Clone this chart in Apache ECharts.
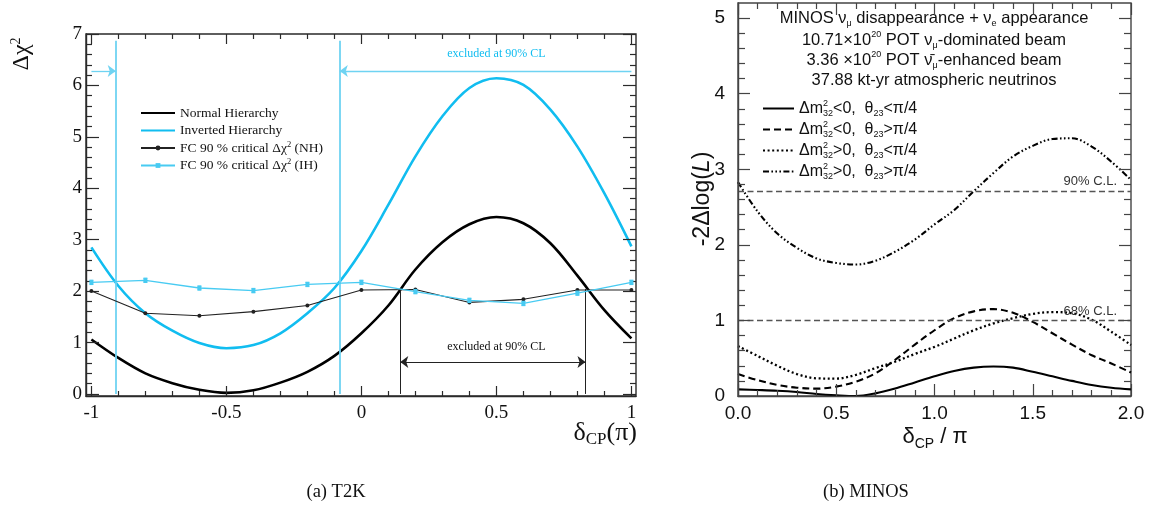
<!DOCTYPE html>
<html>
<head>
<meta charset="utf-8">
<script src="https://cdn.jsdelivr.net/npm/echarts@6/dist/echarts.min.js"></script>
<style>
  html, body { margin: 0; padding: 0; background: #ffffff; }
  #chart { width: 1156px; height: 508px; }
</style>
</head>
<body>
<div id="chart"></div>
<script>
// ---------- (a) T2K : Δχ² versus δCP ----------
const t2kDelta = [-1.0, -0.9, -0.8, -0.7, -0.6, -0.5, -0.4, -0.3, -0.2, -0.1, 0.0,
                  0.1, 0.2, 0.3, 0.4, 0.5, 0.6, 0.7, 0.8, 0.9, 1.0];
const t2kNormal   = [1.06, 0.70, 0.40, 0.21, 0.08, 0.02, 0.07, 0.22, 0.43, 0.74, 1.18,
                     1.72, 2.42, 2.95, 3.30, 3.44, 3.32, 2.93, 2.30, 1.63, 1.08];
const t2kInverted = [2.85, 2.10, 1.57, 1.23, 0.99, 0.89, 0.95, 1.18, 1.57, 2.06, 2.78,
                     3.68, 4.62, 5.40, 5.95, 6.14, 6.01, 5.53, 4.81, 3.90, 2.87];
const fcDelta     = [-1.0, -0.8, -0.6, -0.4, -0.2, 0.0, 0.2, 0.4, 0.6, 0.8, 1.0];
const fcNormal    = [2.00, 1.57, 1.52, 1.60, 1.72, 2.02, 2.03, 1.78, 1.84, 2.02, 2.02];
const fcInverted  = [2.17, 2.21, 2.06, 2.01, 2.13, 2.17, 1.99, 1.82, 1.76, 1.96, 2.17];
const fcInvertedErr = [0.04, 0.04, 0.04, 0.04, 0.04, 0.04, 0.04, 0.04, 0.04, 0.04, 0.04];
const ihBounds = [-0.91, -0.08];     // IH: excluded outside these δCP values
const nhBounds = [0.144, 0.83];      // NH: excluded between these δCP values
const ihArrowLevel = 6.28, ihTextLevel = 6.61, ihLineTop = 6.87;
const nhArrowLevel = 0.62, nhTextLevel = 0.92, nhLineTop = 2.04;
const t2kXTicks = [-1, -0.5, 0, 0.5, 1];
const t2kYTicks = [0, 1, 2, 3, 4, 5, 6, 7];

// ---------- (b) MINOS : -2Δlog(L) versus δCP/π ----------
const minosDelta = [0.0, 0.1, 0.2, 0.3, 0.4, 0.5, 0.6, 0.7, 0.8, 0.9, 1.0,
                    1.1, 1.2, 1.3, 1.4, 1.5, 1.6, 1.7, 1.8, 1.9, 2.0];
const ihLowOctant  = [0.088, 0.08, 0.07, 0.053, 0.027, 0.01, 0.0, 0.035, 0.10, 0.18, 0.26,
                      0.33, 0.375, 0.39, 0.375, 0.32, 0.26, 0.20, 0.146, 0.11, 0.088];
const ihHighOctant = [0.29, 0.21, 0.146, 0.11, 0.097, 0.124, 0.19, 0.30, 0.48, 0.68, 0.87,
                      1.03, 1.12, 1.15, 1.10, 0.98, 0.83, 0.68, 0.54, 0.43, 0.31];
const nhLowOctant  = [0.66, 0.53, 0.40, 0.29, 0.234, 0.23, 0.28, 0.37, 0.455, 0.556, 0.65,
                      0.76, 0.87, 0.96, 1.03, 1.086, 1.11, 1.095, 1.01, 0.85, 0.675];
const nhHighOctant = [2.83, 2.44, 2.15, 1.96, 1.82, 1.76, 1.74, 1.79, 1.91, 2.07, 2.27,
                      2.46, 2.71, 2.95, 3.17, 3.31, 3.40, 3.41, 3.30, 3.10, 2.86];
const clLevels = [2.71, 1.0];
const clLabels = ['90% C.L.', '68% C.L.'];
const minosXTicks = [0, 0.5, 1, 1.5, 2];
const minosYTicks = [0, 1, 2, 3, 4, 5];

const pairs = (xs, ys) => xs.map((x, i) => [x, ys[i]]);
function steps(from, to, step, skipEvery) {
  const out = [];
  const n = Math.round((to - from) / step);
  for (let i = 0; i <= n; i++) {
    const v = +(from + i * step).toFixed(4);
    if (skipEvery && Math.abs(v / skipEvery - Math.round(v / skipEvery)) < 1e-6) continue;
    out.push(v);
  }
  return out;
}

const SERIF = '"Liberation Serif", "DejaVu Serif", serif';
const SANS = '"Liberation Sans", Arial, sans-serif';
const CYAN = '#11bdf0';
const CYAN_LIGHT = '#48cbf2';
const CYAN_RULE = '#6fd3f2';

// one tick-only axis (major or minor marks, optional labels) placed on a grid edge
function tickAxis(grid, position, min, max, ticks, len, labels, color, font, fmt, margin) {
  return {
    type: 'value', gridIndex: grid, position: position, min: min, max: max,
    axisLine: { show: !!labels, onZero: false, lineStyle: { color: color, width: 1.4 } },
    splitLine: { show: false },
    axisTick: { show: true, inside: true, length: len, customValues: ticks,
                lineStyle: { color: color, width: 1.2 } },
    axisLabel: labels ? { show: true, customValues: labels, color: '#111',
                          fontFamily: font.family, fontSize: font.size,
                          margin: margin, formatter: fmt } : { show: false },
    silent: true, z: 5
  };
}

const T2K_X = [-1.02, 1.017], T2K_Y = [-0.04, 7];
const MIN_X = [0, 2], MIN_Y = [0, 5.2];
const dark = '#2a2a2a', grey = '#444';

const xAxes = [
  tickAxis(0, 'bottom', T2K_X[0], T2K_X[1], t2kXTicks, 10, t2kXTicks, dark, {family: SERIF, size: 19}, v => String(v), 8),
  tickAxis(0, 'bottom', T2K_X[0], T2K_X[1], steps(-1, 1, 0.1, 0.5), 5, null, dark),
  tickAxis(0, 'top', T2K_X[0], T2K_X[1], t2kXTicks, 10, null, dark),
  tickAxis(0, 'top', T2K_X[0], T2K_X[1], steps(-1, 1, 0.1, 0.5), 5, null, dark),
  tickAxis(1, 'bottom', MIN_X[0], MIN_X[1], minosXTicks, 12, minosXTicks, grey, {family: SANS, size: 19}, v => v.toFixed(1), 8),
  tickAxis(1, 'bottom', MIN_X[0], MIN_X[1], steps(0, 2, 0.1, 0.5), 6, null, grey),
  tickAxis(1, 'top', MIN_X[0], MIN_X[1], minosXTicks, 12, null, grey),
  tickAxis(1, 'top', MIN_X[0], MIN_X[1], steps(0, 2, 0.1, 0.5), 6, null, grey)
];
const yAxes = [
  tickAxis(0, 'left', T2K_Y[0], T2K_Y[1], t2kYTicks, 13, t2kYTicks, dark, {family: SERIF, size: 19}, v => String(v), 4),
  tickAxis(0, 'left', T2K_Y[0], T2K_Y[1], steps(0, 7, 0.2, 1), 6, null, dark),
  tickAxis(0, 'right', T2K_Y[0], T2K_Y[1], t2kYTicks, 13, null, dark),
  tickAxis(0, 'right', T2K_Y[0], T2K_Y[1], steps(0, 7, 0.2, 1), 6, null, dark),
  tickAxis(1, 'left', MIN_Y[0], MIN_Y[1], minosYTicks, 12, minosYTicks, grey, {family: SANS, size: 19}, v => String(v), 13),
  tickAxis(1, 'left', MIN_Y[0], MIN_Y[1], steps(0, 5, 0.2, 1), 7, null, grey),
  tickAxis(1, 'right', MIN_Y[0], MIN_Y[1], minosYTicks, 12, null, grey),
  tickAxis(1, 'right', MIN_Y[0], MIN_Y[1], steps(0, 5, 0.2, 1), 7, null, grey)
];

const noLabel = { show: false };

const series = [
  // ----- T2K -----
  {
    name: 'Normal Hierarchy', type: 'line', xAxisIndex: 0, yAxisIndex: 0,
    data: pairs(t2kDelta, t2kNormal), smooth: 0.35, symbol: 'none',
    lineStyle: { color: '#000', width: 2.6 }, itemStyle: { color: '#000' }, z: 4,
    markLine: {
      silent: true, symbol: ['none', 'none'], symbolSize: [9, 8], label: noLabel,
      lineStyle: { color: '#222', width: 1, type: 'solid' },
      data: [
        [{ coord: [nhBounds[0], 0] }, { coord: [nhBounds[0], nhLineTop] }],
        [{ coord: [nhBounds[1], 0] }, { coord: [nhBounds[1], nhLineTop] }],
        [{ coord: [nhBounds[0], nhArrowLevel], symbol: 'arrow' },
         { coord: [nhBounds[1], nhArrowLevel], symbol: 'arrow' }]
      ]
    },
    markPoint: {
      silent: true, symbol: 'rect', symbolSize: 1, itemStyle: { color: 'rgba(0,0,0,0)' },
      label: { show: true, position: 'inside', formatter: 'excluded at 90% CL',
               color: '#111', fontFamily: SERIF, fontSize: 12 },
      data: [{ coord: [0.5, nhTextLevel] }]
    }
  },
  {
    name: 'Inverted Hierarchy', type: 'line', xAxisIndex: 0, yAxisIndex: 0,
    data: pairs(t2kDelta, t2kInverted), smooth: 0.35, symbol: 'none',
    lineStyle: { color: CYAN, width: 2.6 }, itemStyle: { color: CYAN }, z: 3,
    markLine: {
      silent: true, symbol: ['none', 'none'], symbolSize: [9, 8], label: noLabel,
      lineStyle: { color: CYAN_RULE, width: 1.8, type: 'solid' },
      data: [
        [{ coord: [ihBounds[0], 0] }, { coord: [ihBounds[0], ihLineTop] }],
        [{ coord: [ihBounds[1], 0] }, { coord: [ihBounds[1], ihLineTop] }],
        [{ coord: [-1, ihArrowLevel], lineStyle: { width: 1.3 } },
         { coord: [ihBounds[0], ihArrowLevel], symbol: 'arrow' }],
        [{ coord: [1, ihArrowLevel], lineStyle: { width: 1.3 } },
         { coord: [ihBounds[1], ihArrowLevel], symbol: 'arrow' }]
      ]
    },
    markPoint: {
      silent: true, symbol: 'rect', symbolSize: 1, itemStyle: { color: 'rgba(0,0,0,0)' },
      label: { show: true, position: 'inside', formatter: 'excluded at 90% CL',
               color: CYAN, fontFamily: SERIF, fontSize: 12 },
      data: [{ coord: [0.5, ihTextLevel] }]
    }
  },
  {
    name: 'FC NH', type: 'line', xAxisIndex: 0, yAxisIndex: 0,
    data: pairs(fcDelta, fcNormal), symbol: 'circle', symbolSize: 4,
    lineStyle: { color: '#222', width: 1.1 }, itemStyle: { color: '#222' }, z: 5
  },
  {
    name: 'FC IH', type: 'line', xAxisIndex: 0, yAxisIndex: 0,
    data: pairs(fcDelta, fcInverted), symbol: 'rect', symbolSize: 4,
    lineStyle: { color: CYAN_LIGHT, width: 1.3 }, itemStyle: { color: CYAN_LIGHT }, z: 5
  },
  {
    type: 'custom', xAxisIndex: 0, yAxisIndex: 0, silent: true, z: 6,
    data: fcDelta.map((x, i) => [x, fcInverted[i], fcInvertedErr[i]]),
    renderItem: function (params, api) {
      const x = api.value(0), y = api.value(1), e = api.value(2);
      const lo = api.coord([x, y - e]), hi = api.coord([x, y + e]);
      const st = { stroke: CYAN_LIGHT, lineWidth: 1.3 };
      return { type: 'group', children: [
        { type: 'line', shape: { x1: lo[0], y1: lo[1], x2: hi[0], y2: hi[1] }, style: st },
        { type: 'line', shape: { x1: lo[0] - 2, y1: lo[1], x2: lo[0] + 2, y2: lo[1] }, style: st },
        { type: 'line', shape: { x1: hi[0] - 2, y1: hi[1], x2: hi[0] + 2, y2: hi[1] }, style: st }
      ] };
    }
  },
  // ----- MINOS -----
  {
    name: 'ihLow', type: 'line', xAxisIndex: 4, yAxisIndex: 4,
    data: pairs(minosDelta, ihLowOctant), smooth: 0.35, symbol: 'none',
    lineStyle: { color: '#000', width: 2.1, type: 'solid' }, itemStyle: { color: '#000' },
    markLine: {
      silent: true, symbol: ['none', 'none'],
      lineStyle: { color: '#555', width: 1.3, type: [6, 3.5] },
      label: { show: true, position: 'insideEndTop', distance: [14, 3], color: '#333',
               fontFamily: SANS, fontSize: 13, formatter: p => p.name },
      data: clLevels.map((v, i) => ({ yAxis: v, name: clLabels[i] }))
    }
  },
  {
    name: 'ihHigh', type: 'line', xAxisIndex: 4, yAxisIndex: 4,
    data: pairs(minosDelta, ihHighOctant), smooth: 0.35, symbol: 'none',
    lineStyle: { color: '#000', width: 2.1, type: [7, 4] }, itemStyle: { color: '#000' }
  },
  {
    name: 'nhLow', type: 'line', xAxisIndex: 4, yAxisIndex: 4,
    data: pairs(minosDelta, nhLowOctant), smooth: 0.35, symbol: 'none',
    lineStyle: { color: '#000', width: 2.3, type: [2, 2.6] }, itemStyle: { color: '#000' }
  },
  {
    name: 'nhHigh', type: 'line', xAxisIndex: 4, yAxisIndex: 4,
    data: pairs(minosDelta, nhHighOctant), smooth: 0.35, symbol: 'none',
    lineStyle: { color: '#000', width: 2.1, type: [6, 2.4, 1.6, 2.4, 1.6, 2.4, 1.6, 2.4] },
    itemStyle: { color: '#000' }
  }
];

const t2kLegendText = {
  'Normal Hierarchy': 'Normal Hierarchy',
  'Inverted Hierarchy': 'Inverted Hierarchy',
  'FC NH': 'FC 90 % critical Δχ{sup|2} (NH)',
  'FC IH': 'FC 90 % critical Δχ{sup|2} (IH)'
};
const minosLegendText = {
  ihLow:  'Δm{sp|2}{sb|32}<0,  θ{sb|23}<π/4',
  ihHigh: 'Δm{sp|2}{sb|32}<0,  θ{sb|23}>π/4',
  nhLow:  'Δm{sp|2}{sb|32}>0,  θ{sb|23}<π/4',
  nhHigh: 'Δm{sp|2}{sb|32}>0,  θ{sb|23}>π/4'
};
const hiddenMarker = { color: 'rgba(0,0,0,0)', borderWidth: 0, opacity: 0 };

const option = {
  animation: false,
  backgroundColor: '#ffffff',
  grid: [
    { left: 86, top: 34, width: 550, height: 362, show: true, borderColor: dark, borderWidth: 1.4, containLabel: false },
    { left: 738, top: 3, width: 393, height: 393, show: true, borderColor: grey, borderWidth: 1.4, containLabel: false }
  ],
  xAxis: xAxes,
  yAxis: yAxes,
  legend: [
    {
      data: [
        { name: 'Normal Hierarchy', itemStyle: hiddenMarker },
        { name: 'Inverted Hierarchy', itemStyle: hiddenMarker },
        { name: 'FC NH' },
        { name: 'FC IH' }
      ],
      orient: 'vertical', left: 135, top: 100, itemWidth: 34, itemHeight: 6, itemGap: 1.5,
      selectedMode: false,
      formatter: n => t2kLegendText[n],
      textStyle: { fontFamily: SERIF, fontSize: 13.5, color: '#111', lineHeight: 16,
                   rich: { sup: { fontFamily: SERIF, fontSize: 8.5, verticalAlign: 'top', lineHeight: 16, color: '#111' } } }
    },
    {
      data: ['ihLow', 'ihHigh', 'nhLow', 'nhHigh'].map(n => ({ name: n, itemStyle: hiddenMarker })),
      orient: 'vertical', left: 757, top: 94, itemWidth: 31, itemHeight: 12, itemGap: 2,
      selectedMode: false,
      formatter: n => minosLegendText[n],
      textStyle: { fontFamily: SANS, fontSize: 16, color: '#111', lineHeight: 19,
                   rich: {
                     sp: { fontFamily: SANS, fontSize: 9, verticalAlign: 'top', lineHeight: 19, width: 0.01, color: '#111' },
                     sb: { fontFamily: SANS, fontSize: 9, verticalAlign: 'bottom', lineHeight: 19, color: '#111' }
                   } }
    }
  ],
  series: series,
  graphic: [
    // T2K axis titles
    { type: 'text', x: 22, y: 54, rotation: Math.PI / 2,
      style: { text: 'Δχ{s|2}', font: '24px ' + SERIF, fill: '#111', align: 'center', verticalAlign: 'middle',
               rich: { s: { font: '14px ' + SERIF, verticalAlign: 'top', lineHeight: 26 } } } },
    { type: 'text', x: 637, y: 433,
      style: { text: 'δ{s|CP}(π)', font: '26px ' + SERIF, fill: '#111', align: 'right', verticalAlign: 'middle',
               rich: { s: { font: '17px ' + SERIF, verticalAlign: 'bottom', lineHeight: 30 } } } },
    // MINOS axis titles
    { type: 'text', x: 703, y: 199, rotation: Math.PI / 2,
      style: { text: '-2Δlog({i|L})', font: '23px ' + SANS, fill: '#111', align: 'center', verticalAlign: 'middle',
               rich: { i: { font: 'italic 23px ' + SANS } } } },
    { type: 'text', x: 935, y: 437,
      style: { text: 'δ{s|CP} / π', font: '22px ' + SANS, fill: '#111', align: 'center', verticalAlign: 'middle',
               rich: { s: { font: '14px ' + SANS, verticalAlign: 'bottom', lineHeight: 28 } } } },
    // MINOS data description
    { type: 'text', x: 934, y: 18,
      style: { text: 'MINOS ν{b|μ} disappearance + ν{b|e} appearance', font: '16.5px ' + SANS, fill: '#111',
               align: 'center', verticalAlign: 'middle',
               rich: { b: { font: '9px ' + SANS, verticalAlign: 'bottom', lineHeight: 20 } } } },
    { type: 'text', x: 934, y: 40,
      style: { text: '10.71×10{p|20} POT ν{b|μ}-dominated beam', font: '16.5px ' + SANS, fill: '#111',
               align: 'center', verticalAlign: 'middle',
               rich: { b: { font: '9px ' + SANS, verticalAlign: 'bottom', lineHeight: 20 },
                       p: { font: '9px ' + SANS, verticalAlign: 'top', lineHeight: 20 } } } },
    { type: 'text', x: 934, y: 60,
      style: { text: '3.36 ×10{p|20} POT ν\u0304{b|μ}-enhanced beam', font: '16.5px ' + SANS, fill: '#111',
               align: 'center', verticalAlign: 'middle',
               rich: { b: { font: '9px ' + SANS, verticalAlign: 'bottom', lineHeight: 20 },
                       p: { font: '9px ' + SANS, verticalAlign: 'top', lineHeight: 20 } } } },
    { type: 'text', x: 934, y: 80,
      style: { text: '37.88 kt-yr atmospheric neutrinos', font: '16.5px ' + SANS, fill: '#111',
               align: 'center', verticalAlign: 'middle' } },
    // panel captions
    { type: 'text', x: 336, y: 492,
      style: { text: '(a) T2K', font: '18.5px ' + SERIF, fill: '#111', align: 'center', verticalAlign: 'middle' } },
    { type: 'text', x: 866, y: 492,
      style: { text: '(b) MINOS', font: '18.5px ' + SERIF, fill: '#111', align: 'center', verticalAlign: 'middle' } }
  ]
};

const chart = echarts.init(document.getElementById('chart'), null, { renderer: 'canvas' });
chart.setOption(option);
</script>
</body>
</html>
